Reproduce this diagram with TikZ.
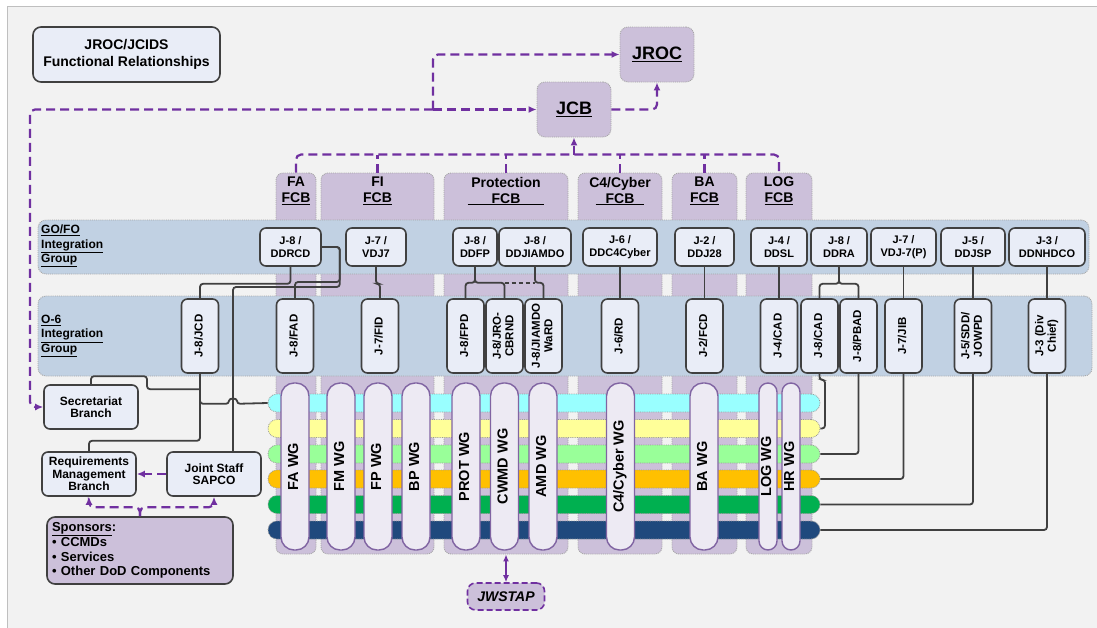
\documentclass[tikz,border=0pt]{standalone}
\usepackage{fontspec}
\setmainfont{Liberation Sans}
\usepackage{graphicx}
\usetikzlibrary{arrows.meta,calc}

\definecolor{pagegray}{HTML}{F2F2F2}
\definecolor{framegray}{HTML}{BFBFBF}
\definecolor{boxfill}{HTML}{E9EDF7}
\definecolor{boxline}{HTML}{404040}
\definecolor{fcbpurple}{HTML}{CCC0DA}
\definecolor{bandblue}{HTML}{C1D1E3}
\definecolor{wgfill}{HTML}{EDEAF3}
\definecolor{wgline}{HTML}{8064A2}
\definecolor{linkpurple}{HTML}{7030A0}
\definecolor{barcyan}{HTML}{99FFFF}
\definecolor{baryellow}{HTML}{FFFF99}
\definecolor{barlime}{HTML}{99FF99}
\definecolor{barorange}{HTML}{FFC000}
\definecolor{bargreen}{HTML}{00B050}
\definecolor{barnavy}{HTML}{1F497D}

\newcommand{\rotlabel}[1]{\rotatebox{90}{\begin{tabular}{@{}c@{}}#1\end{tabular}}}

\begin{document}
\begin{tikzpicture}[
  x=1pt, y=-1pt,
  basebox/.style={draw=boxline, line width=1.6pt, fill=boxfill, rounded corners=6pt, inner sep=1pt, font=\bfseries\fontsize{11}{12.5}\selectfont},
  gobox/.style={basebox, align=center, minimum height=38pt},
  osix/.style={basebox, minimum width=37pt, minimum height=74pt, font=\bfseries\fontsize{11.5}{12.5}\selectfont},
  branch/.style={basebox, align=center, minimum width=94pt, minimum height=44pt, font=\bfseries\fontsize{12}{12.5}\selectfont},
  board/.style={draw=gray!70, densely dotted, line width=0.9pt, fill=fcbpurple, rounded corners=8pt, minimum width=74pt, minimum height=55pt, font=\bfseries\fontsize{18}{20}\selectfont},
  fcbcol/.style={draw=gray!70, densely dotted, line width=0.9pt, fill=fcbpurple, rounded corners=7pt, minimum height=381pt, inner sep=0pt},
  fcblabel/.style={font=\bfseries\fontsize{14}{16}\selectfont, align=center, inner sep=0pt},
  band/.style={draw=gray!70, densely dotted, line width=0.9pt, fill=bandblue, rounded corners=8pt, inner sep=0pt},
  bandlabel/.style={font=\bfseries\fontsize{12}{14.5}\selectfont, align=left, anchor=west, inner sep=0pt},
  colourbar/.style={draw=gray!80, densely dotted, line width=0.8pt, rounded corners=9pt, minimum width=552pt, minimum height=18pt, inner sep=0pt},
  wgbar/.style={draw=wgline, line width=1.4pt, fill=wgfill, rounded corners=13pt, minimum width=28pt, minimum height=167pt, inner sep=0pt, font=\bfseries\fontsize{14.5}{16}\selectfont},
  slimwg/.style={wgbar, minimum width=18pt, rounded corners=9pt},
  wire/.style={draw=boxline, line width=1.8pt, rounded corners=3pt},
  dashlink/.style={draw=linkpurple, line width=2.2pt, dash pattern=on 9pt off 5pt, rounded corners=5pt},
  dasharrow/.style={dashlink, -{Latex[length=8pt,width=7pt]}}
]
\useasboundingbox (0,0) rectangle (1097,627);
\fill[white] (0,0) rectangle (1097,627);
\draw[framegray, fill=pagegray, line width=1pt] (7.5,6.5) rectangle (1105,635);

\node[gobox, minimum width=187pt, minimum height=55pt, rounded corners=8pt, font=\bfseries\fontsize{14}{16.5}\selectfont] (title) at (126.5,54.5) {JROC/JCIDS\\Functional Relationships};
\node[board] (jroc) at (657,54.5) {\underline{JROC}};
\node[board] (jcb) at (574,109.5) {\underline{JCB}};

\node[fcbcol, minimum width=40pt] (colFA) at (296,363.5) {};
\node[fcbcol, minimum width=113pt] (colFI) at (377.5,363.5) {};
\node[fcbcol, minimum width=124pt] (colPROT) at (506,363.5) {};
\node[fcbcol, minimum width=84pt] (colC4) at (620,363.5) {};
\node[fcbcol, minimum width=65pt] (colBA) at (704.5,363.5) {};
\node[fcbcol, minimum width=66pt] (colLOG) at (779,363.5) {};
\node[fcblabel] (fcbFA) at (296,191) {FA\\\underline{FCB}};
\node[fcblabel] (fcbFI) at (377.5,191) {FI\\\underline{FCB}};
\node[fcblabel] (fcbPROT) at (506,191) {Protection\\\underline{\hspace*{24pt}FCB\hspace*{24pt}}};
\node[fcblabel] (fcbC4) at (620,191) {C4/Cyber\\\underline{\hspace*{10pt}FCB\hspace*{10pt}}};
\node[fcblabel] (fcbBA) at (704.5,191) {BA\\\underline{FCB}};
\node[fcblabel] (fcbLOG) at (779,191) {LOG\\\underline{FCB}};

\node[band, minimum width=1051pt, minimum height=54pt] (gofo) at (563.5,247) {};
\node[band, minimum width=1054pt, minimum height=80pt] (osixband) at (565,336) {};
\node[bandlabel] (gofolbl) at (41,246) {\underline{GO/FO}\\\underline{Integration}\\\underline{Group}};
\node[bandlabel] (osixlbl) at (41,336) {\underline{O-6}\\\underline{Integration}\\\underline{Group}};

\node[colourbar, fill=barcyan] (barA) at (544,403) {};
\node[colourbar, fill=baryellow] (barB) at (544,428.5) {};
\node[colourbar, fill=barlime] (barC) at (544,454) {};
\node[colourbar, fill=barorange] (barD) at (544,479) {};
\node[colourbar, fill=bargreen] (barE) at (544,504.5) {};
\node[colourbar, fill=barnavy] (barF) at (544,530) {};

\node[wgbar] (wgFA) at (295,466.5) {\rotlabel{FA WG}};
\node[wgbar] (wgFM) at (341,466.5) {\rotlabel{FM WG}};
\node[wgbar] (wgFP) at (378,466.5) {\rotlabel{FP WG}};
\node[wgbar] (wgBP) at (416,466.5) {\rotlabel{BP WG}};
\node[wgbar] (wgPROT) at (466,466.5) {\rotlabel{PROT WG}};
\node[wgbar] (wgCWMD) at (504.5,466.5) {\rotlabel{CWMD WG}};
\node[wgbar] (wgAMD) at (543,466.5) {\rotlabel{AMD WG}};
\node[wgbar] (wgC4) at (620.5,466.5) {\rotlabel{C4/Cyber WG}};
\node[wgbar] (wgBA) at (704,466.5) {\rotlabel{BA WG}};
\node[slimwg] (wgLOG) at (768,466.5) {\rotlabel{LOG WG}};
\node[slimwg] (wgHR) at (791,466.5) {\rotlabel{HR WG}};

\node[gobox, minimum width=61pt] (ddrcd) at (290.5,247) {J-8 /\\DDRCD};
\node[gobox, minimum width=60pt] (vdj7) at (376,247) {J-7 /\\VDJ7};
\node[gobox, minimum width=44pt] (ddfp) at (475,247) {J-8 /\\DDFP};
\node[gobox, minimum width=72pt] (ddjiamdo) at (535,247) {J-8 /\\DDJIAMDO};
\node[gobox, minimum width=74pt] (ddc4) at (620,247) {J-6 /\\DDC4Cyber};
\node[gobox, minimum width=59pt] (ddj28) at (704.5,247) {J-2 /\\DDJ28};
\node[gobox, minimum width=56pt] (ddsl) at (779,247) {J-4 /\\DDSL};
\node[gobox, minimum width=56pt] (ddra) at (839,247) {J-8 /\\DDRA};
\node[gobox, minimum width=65pt] (vdj7p) at (903.5,247) {J-7 /\\VDJ-7(P)};
\node[gobox, minimum width=64pt] (ddjsp) at (973,247) {J-5 /\\DDJSP};
\node[gobox, minimum width=76pt] (ddnhdco) at (1047,247) {J-3 /\\DDNHDCO};

\node[osix] (jcd) at (200,336) {\rotlabel{J-8/JCD}};
\node[osix] (fad) at (295,336) {\rotlabel{J-8/FAD}};
\node[osix] (fid) at (380,336) {\rotlabel{J-7/FID}};
\node[osix] (fpd) at (465.5,336) {\rotlabel{J-8/FPD}};
\node[osix] (cbrnd) at (504.5,336) {\rotlabel{J-8/JRO-\\CBRND}};
\node[osix] (ward) at (543.5,336) {\rotlabel{J-8/JIAMDO\\WaRD}};
\node[osix] (rd) at (620,336) {\rotlabel{J-6/RD}};
\node[osix] (fcd) at (704.5,336) {\rotlabel{J-2/FCD}};
\node[osix] (cad4) at (779,336) {\rotlabel{J-4/CAD}};
\node[osix] (cad8) at (819.5,336) {\rotlabel{J-8/CAD}};
\node[osix] (pbad) at (858.5,336) {\rotlabel{J-8/PBAD}};
\node[osix] (jib) at (903.5,336) {\rotlabel{J-7/JIB}};
\node[osix] (jowpd) at (973,336) {\rotlabel{J-5/SDD/\\JOWPD}};
\node[osix] (divchief) at (1047,336) {\rotlabel{J-3 (Div\\Chief)}};

\node[branch] (secr) at (91,407) {Secretariat\\Branch};
\node[branch] (reqm) at (89,474) {Requirements\\Management\\Branch};
\node[branch] (sapco) at (214,474) {Joint Staff\\SAPCO};
\node[basebox, fill=fcbpurple, rounded corners=8pt, minimum height=67pt, text width=176pt, inner sep=5pt, align=left, font=\bfseries\fontsize{13}{14.5}\selectfont] (sponsors) at (140,550.5) {\underline{Sponsors}:\\[1pt]\textbullet\ CCMDs\\\textbullet\ Services\\\textbullet\ Other DoD Components};
\node[draw=linkpurple, dash pattern=on 6pt off 3pt, line width=1.6pt, fill=fcbpurple, rounded corners=8pt, minimum width=77pt, minimum height=27pt, font=\bfseries\itshape\fontsize{14}{16}\selectfont] (jwstap) at (506,596.5) {JWSTAP};

\coordinate (fork) at (433,109.5);
\coordinate (busline) at ($(colFA.north)+(0,-18)$);
\draw[dasharrow] (fork) -- (jcb.west);
\draw[dasharrow] (fork) |- (jroc.west);
\draw[dasharrow] (fork) -- (30,109.5) |- (secr.west);
\draw[dasharrow] (jcb.east) -| (jroc.south);
\draw[dashlink] (colFA.north) -- (busline) -| (colLOG.north);
\draw[dashlink] (colFI.north) -- (colFI.north |- busline);
\draw[dashlink] (colPROT.north) -- (colPROT.north |- busline);
\draw[dashlink] (colC4.north) -- (colC4.north |- busline);
\draw[dashlink] (colBA.north) -- (colBA.north |- busline);
\draw[dasharrow] (jcb.south |- busline) -- (jcb.south);
\draw[dasharrow] (sapco.west) -- (reqm.east);
\draw[dasharrow] (sponsors.north) -- ++(0,-9) -| (reqm.south);
\draw[dasharrow] (sponsors.north) -- ++(0,-9) -| (sapco.south);
\draw[linkpurple, line width=1.8pt, {Latex[length=7pt,width=6pt]}-{Latex[length=7pt,width=6pt]}] (colPROT.south) -- (jwstap.north);

\coordinate (fpjoin) at ($(ddfp.south)+(0,16)$);
\draw[wire] (ddrcd.south) -- ++(0,17) -| (jcd.north);
\draw[wire] (ddrcd.east) -| ++(18,35) -| (fad.north);
\draw[wire] (ddrcd.east) -| ++(18,40) -| ($(sapco.north)+(19,0)$);
\draw[wire] (jcd.south) -- ++(0,30) -- ++(29,0) .. controls +(0,-6) and +(0,-6) .. ++(8,0) -- (barA.west);
\draw[wire] (jcd.south) -- ++(0,67) -| (reqm.north);
\draw[wire] (secr.north) -- ++(0,-8) -- ++(56,0) -- ++(0,13) -- ++(53,0);
\draw[wire] (vdj7.south) -- ++(0,17) -| (fid.north);
\draw[wire] (ddfp.south) -- (fpjoin) -| (fpd.north);
\draw[wire] (ddfp.south) -- (fpjoin) -| (cbrnd.north);
\draw[wire] (ddjiamdo.south) -- ++(0,16) -| (ward.north);
\draw[wire, dash pattern=on 4pt off 3pt] (cbrnd.north |- fpjoin) -- (ddjiamdo.south |- fpjoin);
\draw[wire] (ddc4.south) -- (rd.north);
\draw[wire] (ddj28.south) -- (fcd.north);
\draw[wire] (ddsl.south) -- (cad4.north);
\draw[wire] (ddra.south) -- ++(0,17) -| (cad8.north);
\draw[wire] (ddra.south) -- ++(0,17) -| (pbad.north);
\draw[wire] (vdj7p.south) -- (jib.north);
\draw[wire] (ddjsp.south) -- (jowpd.north);
\draw[wire] (ddnhdco.south) -- (divchief.north);
\draw[wire] (cad8.south) -- ++(0,6) -- ++(5.5,0) |- (barB.east);
\draw[wire] (pbad.south) |- (barC.east);
\draw[wire] (jib.south) |- (barD.east);
\draw[wire] (jowpd.south) |- (barE.east);
\draw[wire] (divchief.south) |- (barF.east);
\end{tikzpicture}
\end{document}
